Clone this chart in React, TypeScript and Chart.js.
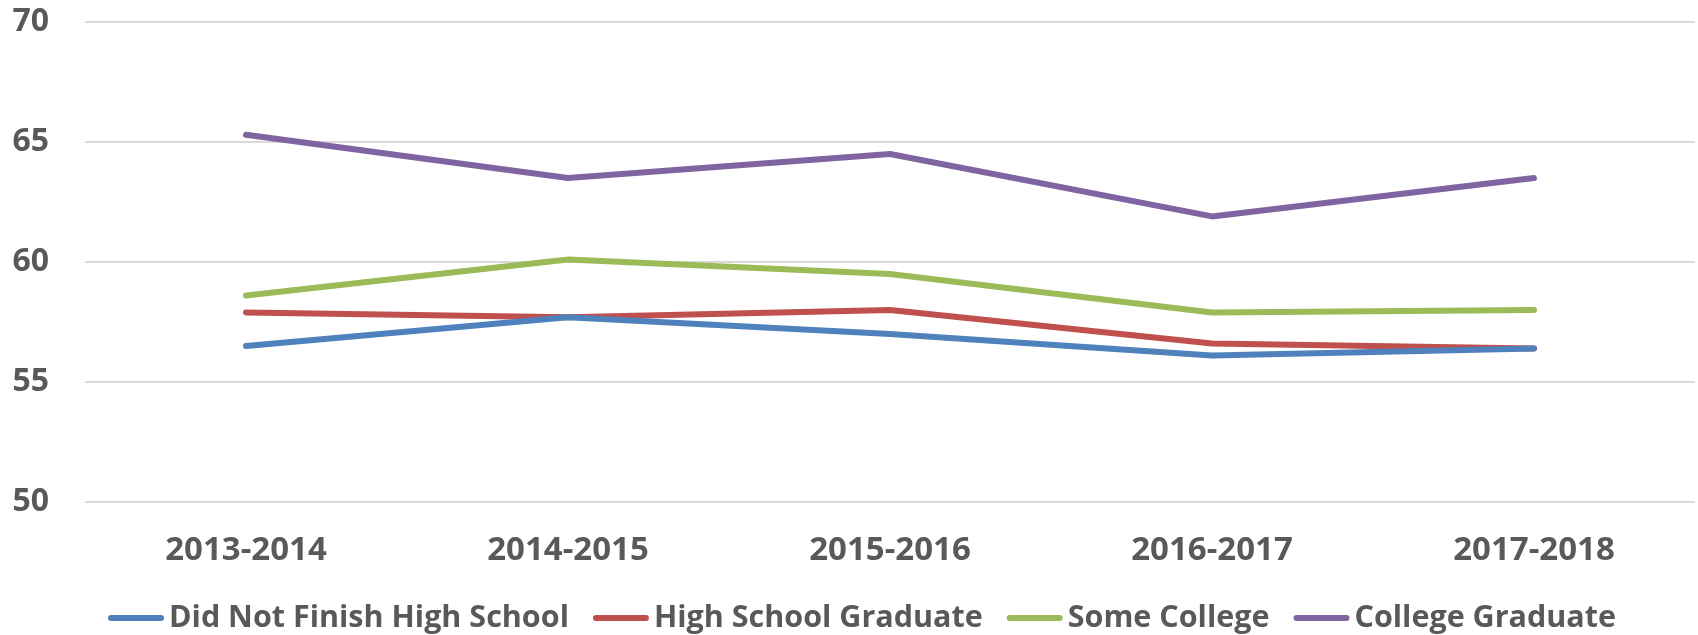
import React, { useEffect, useRef } from "react";
import { Chart, registerables } from "chart.js";

Chart.register(...registerables);

const categories = ["2013-2014", "2014-2015", "2015-2016", "2016-2017", "2017-2018"];
const didNotFinish = [56.5, 57.7, 57.0, 56.1, 56.4];
const hsGraduate = [57.9, 57.7, 58.0, 56.6, 56.4];
const someCollege = [58.6, 60.1, 59.5, 57.9, 58.0];
const collegeGraduate = [65.3, 63.5, 64.5, 61.9, 63.5];
const seriesNames = ["Did Not Finish High School", "High School Graduate", "Some College", "College Graduate"];
const seriesColors = ["#4f81bd", "#c0504d", "#9bbb59", "#8064a2"];

const FONT = "'Open Sans', sans-serif";
const TEXT_COLOR = "#595959";

const legendPlugin = {
  id: "customLegend",
  afterDraw(chart: any) {
    const ctx = chart.ctx as CanvasRenderingContext2D;
    const datasets = chart.data.datasets;
    ctx.save();
    ctx.font = `bold 30.5px ${FONT}`;
    const boxLen = 56;
    const boxGap = 5;
    const itemGap = 24;
    const widths = datasets.map((d: any) => ctx.measureText(d.label).width);
    const total =
      widths.reduce((a: number, w: number) => a + boxLen + boxGap + w, 0) + itemGap * (datasets.length - 1);
    let x = 862 - total / 2;
    const y = 618;
    datasets.forEach((d: any, i: number) => {
      ctx.strokeStyle = d.borderColor;
      ctx.lineWidth = 6;
      ctx.lineCap = "round";
      ctx.beginPath();
      ctx.moveTo(x + 3, y);
      ctx.lineTo(x + boxLen - 3, y);
      ctx.stroke();
      ctx.fillStyle = TEXT_COLOR;
      ctx.textAlign = "left";
      ctx.textBaseline = "middle";
      ctx.fillText(d.label, x + boxLen + boxGap, y);
      x += boxLen + boxGap + widths[i] + itemGap;
    });
    ctx.restore();
  },
};

export default function App() {
  const ref = useRef<HTMLCanvasElement>(null);
  useEffect(() => {
    document.body.style.margin = "0";
    const values = [didNotFinish, hsGraduate, someCollege, collegeGraduate];
    const chart = new Chart(ref.current!, {
      type: "line",
      data: {
        labels: categories,
        datasets: values.map((v, i) => ({
          label: seriesNames[i],
          data: v,
          borderColor: seriesColors[i],
          backgroundColor: seriesColors[i],
          borderWidth: 6,
          pointRadius: 0,
          tension: 0,
          borderCapStyle: "round" as const,
          borderJoinStyle: "round" as const,
        })),
      },
      options: {
        animation: false,
        responsive: false,
        maintainAspectRatio: false,
        layout: { padding: { left: 0, right: 3, top: 22, bottom: 63 } },
        plugins: {
          tooltip: { enabled: false },
          legend: { display: false },
        },
        scales: {
          x: {
            offset: true,
            grid: { display: false, drawTicks: false },
            border: { display: false },
            ticks: {
              color: TEXT_COLOR,
              padding: 29,
              maxRotation: 0,
              font: { family: FONT, size: 33, weight: "bold" },
            },
            afterFit: (s: any) => {
              s.height = 70;
              s.paddingLeft = 0;
              s.paddingRight = 0;
            },
          },
          y: {
            min: 50,
            max: 70,
            grid: { color: "#d9d9d9", lineWidth: 2, drawTicks: false },
            border: { display: false },
            ticks: {
              stepSize: 5,
              color: TEXT_COLOR,
              padding: 36,
              font: { family: FONT, size: 32, weight: "bold" },
            },
            afterFit: (s: any) => {
              s.width = 85;
              s.paddingTop = 0;
              s.paddingBottom = 0;
            },
          },
        },
      },
      plugins: [legendPlugin],
    });
    return () => chart.destroy();
  }, []);
  return (
    <div style={{ width: 1698, height: 635 }}>
      <canvas ref={ref} width={1698} height={635} style={{ width: 1698, height: 635, display: "block" }} />
    </div>
  );
}
